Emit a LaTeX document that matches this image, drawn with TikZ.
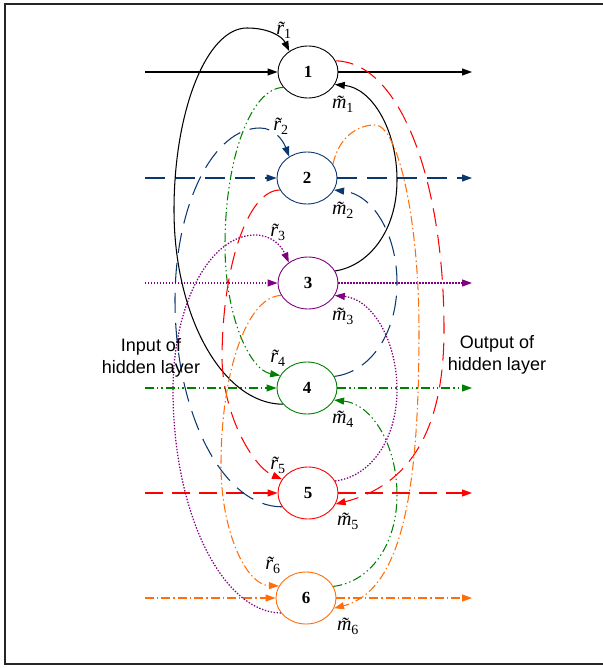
\documentclass[tikz,border=0pt]{standalone}
\usepackage{fontspec}
\setmainfont{Liberation Serif}
\newfontfamily\labelsans{Liberation Sans}
\usetikzlibrary{arrows.meta,shapes.geometric}
\definecolor{cblue}{RGB}{10,55,110}
\definecolor{cpurple}{RGB}{128,0,128}
\definecolor{cgreen}{RGB}{0,128,0}
\definecolor{cred}{RGB}{255,0,0}
\definecolor{corange}{RGB}{255,110,10}
\newcommand\tlab[2]{{\itshape #1\symbol{"0303}}\textsubscript{#2}}
\begin{document}
\begin{tikzpicture}[x=1pt,y=-1pt,
  nd/.style={ellipse,minimum width=60pt,minimum height=52pt,inner sep=0pt,fill=white,line width=0.9pt,font=\fontsize{17}{20}\selectfont\bfseries},
  conn/.style={line width=1.05pt,-{Triangle[length=10pt,width=7pt]}},
  sty1/.style={black},
  sty2/.style={cblue,dash pattern=on 20pt off 10pt},
  sty3/.style={cpurple,line width=1.25pt,dash pattern=on 1.4pt off 1.6pt},
  sty4/.style={cgreen,dash pattern=on 9pt off 3pt on 1.4pt off 3pt on 1.4pt off 3pt},
  sty5/.style={cred,dash pattern=on 18pt off 9pt},
  sty6/.style={corange,dash pattern=on 9pt off 3pt on 1.4pt off 3pt},
  lab/.style={inner sep=0pt,font=\fontsize{20}{22}\selectfont},
  side/.style={inner sep=0pt,align=center,font=\labelsans\fontsize{18}{22}\selectfont}]
\useasboundingbox (0,0) rectangle (602,668);
\draw[line width=2pt,black!85] (5,4) rectangle (612,664);

% nodes
\node[nd,draw=black]   (n1) at (308,72)  {1};
\node[nd,draw=cblue]   (n2) at (307,178) {2};
\node[nd,draw=cpurple] (n3) at (308,283) {3};
\node[nd,draw=cgreen]  (n4) at (307,388) {4};
\node[nd,draw=cred]    (n5) at (308,493) {5};
\node[nd,draw=corange] (n6) at (306,598) {6};

% input / output coordinates
\foreach \i/\y in {1/72,2/178,3/283,4/388,5/493,6/598}{
  \coordinate (in\i) at (145,\y);
  \coordinate (out\i) at (472,\y);
}
\draw[conn,sty1] (in1) -- (n1);  \draw[conn,sty1] (n1) -- (out1);
\draw[conn,sty2] (in2) -- (n2);  \draw[conn,sty2] (n2) -- (out2);
\draw[conn,sty3] (in3) -- (n3);  \draw[conn,sty3] (n3) -- (out3);
\draw[conn,sty4] (in4) -- (n4);  \draw[conn,sty4] (n4) -- (out4);
\draw[conn,sty5] (in5) -- (n5);  \draw[conn,sty5] (n5) -- (out5);
\draw[conn,sty6] (in6) -- (n6);  \draw[conn,sty6] (n6) -- (out6);

% r loops going up (left side)
\draw[conn,sty1] (n4.214) .. controls (223,404) and (174,317) .. (174,210)
   .. controls (174,110) and (207,28) .. (247,28)
   .. controls (268,28) and (282,36) .. (n1.132);
\draw[conn,sty2] (n5.208) .. controls (223,507) and (175,414) .. (175,300)
   .. controls (175,205) and (213,128) .. (260,128)
   .. controls (274,128) and (283,140) .. (n2.130);
\draw[conn,sty3] (n6.211) .. controls (222,612) and (173,513) .. (173,390)
   .. controls (173,304) and (210,235) .. (255,235)
   .. controls (271,235) and (281,245) .. (n3.133);

% r loops going down (left side)
\draw[conn,sty4] (n1.212) .. controls (251,88) and (225,158) .. (225,245)
   .. controls (225,317) and (250,370) .. (n4.155);
\draw[conn,sty5] (n2.204) .. controls (248,190) and (222,266) .. (222,360)
   .. controls (224,420) and (255,468) .. (n5.152);
\draw[conn,sty6] (n3.205) .. controls (247,296) and (221,372) .. (221,465)
   .. controls (221,531) and (246,585) .. (n6.156);

% m loops (right side)
\draw[conn,sty1] (n3.24) .. controls (368,266) and (397,232) .. (397,180)
   .. controls (397,130) and (372,88) .. (n1.-25);
\draw[conn,sty2] (n4.23) .. controls (370,372) and (397,334) .. (397,283)
   .. controls (397,233) and (372,194) .. (n2.-24);
\draw[conn,sty3] (n5.24) .. controls (370,477) and (397,440) .. (397,390)
   .. controls (397,340) and (372,299) .. (n3.-25);
\draw[conn,sty4] (n6.23) .. controls (370,582) and (397,545) .. (397,495)
   .. controls (397,445) and (372,404) .. (n4.-24);
\draw[conn,sty5] (n1.22) .. controls (400,62) and (444,180) .. (444,330)
   .. controls (444,430) and (410,485) .. (n5.-22);
\draw[conn,sty6] (n2.28) .. controls (338,140) and (355,125) .. (375,125)
   .. controls (398,125) and (419,220) .. (419,330)
   .. controls (419,480) and (405,590) .. (n6.-20);

% labels
\node[lab] (lr1) at (284,30)  {\tlab{r}{1}};
\node[lab] (lm1) at (343,104) {\tlab{m}{1}};
\node[lab] (lr2) at (281,126) {\tlab{r}{2}};
\node[lab] (lm2) at (343,210) {\tlab{m}{2}};
\node[lab] (lr3) at (278,232) {\tlab{r}{3}};
\node[lab] (lm3) at (343,316) {\tlab{m}{3}};
\node[lab] (lr4) at (278,358) {\tlab{r}{4}};
\node[lab] (lm4) at (343,419) {\tlab{m}{4}};
\node[lab] (lr5) at (278,465) {\tlab{r}{5}};
\node[lab] (lm5) at (348,521) {\tlab{m}{5}};
\node[lab] (lr6) at (273,565) {\tlab{r}{6}};
\node[lab] (lm6) at (348,626) {\tlab{m}{6}};

\node[side] (lin)  at (151,358) {Input of\\hidden layer};
\node[side] (lout) at (497,355) {Output of\\hidden layer};
\end{tikzpicture}
\end{document}
